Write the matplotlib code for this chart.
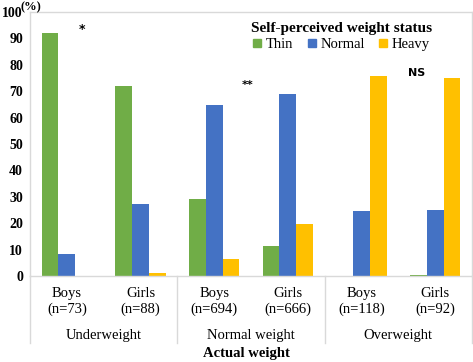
import numpy as np
import matplotlib
matplotlib.use("Agg")
import matplotlib.pyplot as plt
from matplotlib.patches import Patch

# data
cats = ['Boys\n(n=73)', 'Girls\n(n=88)', 'Boys\n(n=694)', 'Girls\n(n=666)', 'Boys\n(n=118)', 'Girls\n(n=92)']
groups = ['Underweight', 'Normal weight', 'Overweight']
thin = [92.0, 71.8, 29.0, 11.5, 0.0, 0.2]
normal = [8.2, 27.3, 64.8, 69.0, 24.7, 25.0]
heavy = [0.0, 1.1, 6.3, 19.7, 75.6, 75.0]
series = ['Thin', 'Normal', 'Heavy']
colors = ['#70ad47', '#4472c4', '#ffc000']
marks = [('*', 0.2, 93.5), ('**', 2.45, 72.5), ('NS', 4.75, 77)]

serif = ['Liberation Serif', 'DejaVu Serif']
plt.rcParams['font.family'] = serif

fig = plt.figure(figsize=(4.73, 3.62), dpi=100)
ax = fig.add_axes([30/473, 1-276/362, 442/473, 264/362])

x = np.arange(len(cats))
w = 0.227
for i, vals in enumerate([thin, normal, heavy]):
    ax.bar(x + (i-1)*w, vals, width=w, color=colors[i], label=series[i], zorder=2)

ax.set_xlim(-0.5, 5.5)
ax.set_ylim(0, 100)
ax.set_yticks(np.arange(0, 101, 10))
ax.set_yticklabels([str(v) for v in range(0, 101, 10)], fontsize=10, fontweight='bold')
ax.tick_params(axis='y', length=0, pad=5)
ax.set_xticks([])
for s in ax.spines.values():
    s.set_color('#d9d9d9')
    s.set_linewidth(1)

# category and group labels
trans = matplotlib.transforms.blended_transform_factory(ax.transData, ax.transAxes)
for xi, c in zip(x, cats):
    ax.text(xi, -0.095, c, transform=trans, ha='center', va='center', fontsize=10.5, linespacing=1.25)
for gi, g in enumerate(groups):
    ax.text(2*gi + 0.5, -0.225, g, transform=trans, ha='center', va='center', fontsize=10.5)
for sx in [-0.5, 1.5, 3.5, 5.5]:
    ax.plot([sx, sx], [0, -0.254], transform=trans, color='#d9d9d9', lw=1, clip_on=False)
ax.text(0.49, -0.295, 'Actual weight', transform=ax.transAxes, ha='center', va='center',
        fontsize=10.5, fontweight='bold')

fig.text(20/473, 1-7/362, '(%)', ha='left', va='center', fontsize=9, fontweight='bold')

for t, mx, my in marks:
    ax.text(mx, my, t, ha='center', va='center', fontsize=9 if t == '*' else 8,
            fontweight='bold', family='DejaVu Sans')

handles = [Patch(color=c) for c in colors]
leg = ax.legend(handles, series, title='Self-perceived weight status', ncol=3, frameon=False,
                loc='upper center', bbox_to_anchor=(0.705, 1.0), fontsize=10.5,
                handlelength=0.55, handleheight=0.55, handletextpad=0.3, columnspacing=1.0,
                borderpad=0.2, labelspacing=0.2)
leg.get_title().set_fontsize(11)
leg.get_title().set_fontweight('bold')

fig.savefig('out.png', dpi=100)
